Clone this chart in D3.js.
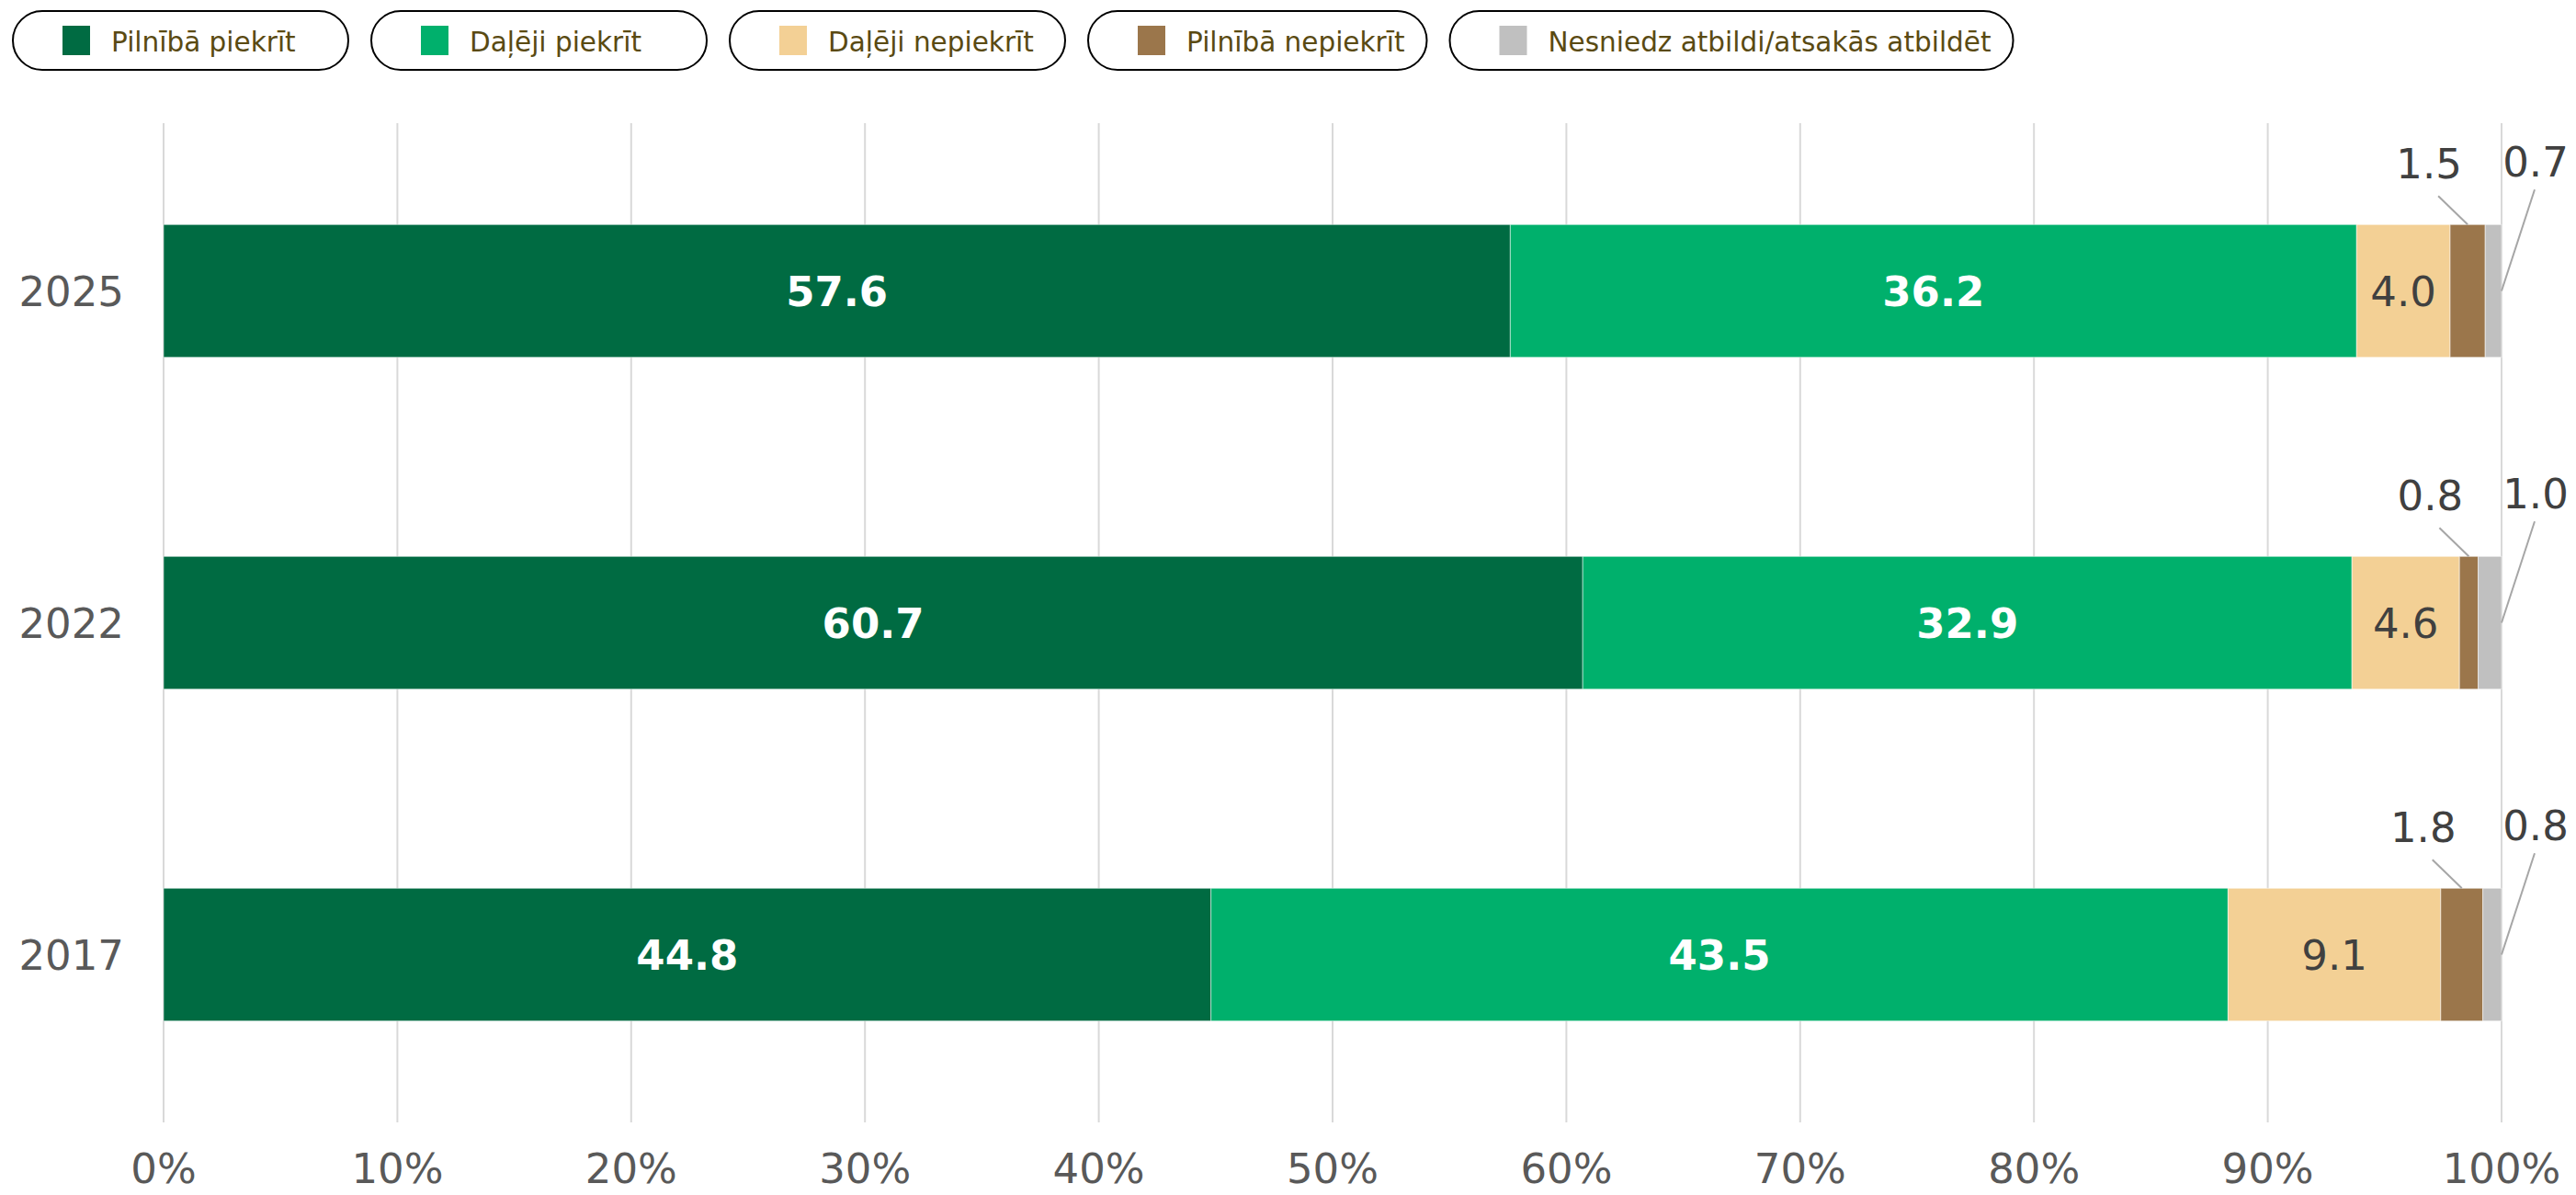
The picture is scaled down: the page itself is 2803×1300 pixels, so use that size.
<html>
<head>
<meta charset="utf-8">
<script src="https://d3js.org/d3.v7.min.js"></script>
<style>
body { margin: 0; background: #fff; }
svg { font-family: "DejaVu Sans", Verdana, sans-serif; }
</style>
</head>
<body>
<script>

// data
var years = ["2025", "2022", "2017"];
var seriesNames = ["Pilnībā piekrīt", "Daļēji piekrīt", "Daļēji nepiekrīt", "Pilnībā nepiekrīt", "Nesniedz atbildi/atsakās atbildēt"];
var pilnibaPiekrit   = [57.6, 60.7, 44.8];
var dalejiPiekrit    = [36.2, 32.9, 43.5];
var dalejiNepiekrit  = [4.0, 4.6, 9.1];
var pilnibaNepiekrit = [1.5, 0.8, 1.8];
var nesniedz         = [0.7, 1.0, 0.8];
var xTicks = [0, 10, 20, 30, 40, 50, 60, 70, 80, 90, 100];

var colors = ["#006b42", "#00b06c", "#f3d095", "#9b764b", "#c0c0c0"];
var values = [pilnibaPiekrit, dalejiPiekrit, dalejiNepiekrit, pilnibaNepiekrit, nesniedz];

var W = 2803, H = 1300;
var margin = {top: 136, right: 81, bottom: 81, left: 178};

var svg = d3.select("body").append("svg")
    .attr("width", W)
    .attr("height", H);

var x = d3.scaleLinear()
    .domain([0, 100])
    .range([margin.left, W - margin.right]);

var y = d3.scaleBand()
    .domain(years)
    .range([margin.top, H - margin.bottom])
    .paddingInner(0.6)
    .paddingOuter(0.3);

// gridlines
svg.append("g").selectAll("line")
    .data(xTicks)
  .enter().append("line")
    .attr("x1", function(d) { return x(d); })
    .attr("x2", function(d) { return x(d); })
    .attr("y1", margin.top - 2)
    .attr("y2", H - margin.bottom + 2)
    .attr("stroke", "#d9d9d9")
    .attr("stroke-width", 2);

// x axis labels
svg.append("g").selectAll("text")
    .data(xTicks)
  .enter().append("text")
    .attr("x", function(d) { return x(d); })
    .attr("y", 1287)
    .attr("text-anchor", "middle")
    .attr("fill", "#595959")
    .attr("font-size", 45)
    .text(function(d) { return d + "%"; });

// y axis labels
svg.append("g").selectAll("text")
    .data(years)
  .enter().append("text")
    .attr("x", 135)
    .attr("y", function(d) { return y(d) + y.bandwidth() / 2; })
    .attr("dy", "0.36em")
    .attr("text-anchor", "end")
    .attr("fill", "#595959")
    .attr("font-size", 45)
    .text(function(d) { return d; });

// stack the series
var rows = years.map(function(yr, i) {
  var r = {year: yr};
  seriesNames.forEach(function(s, k) { r[s] = values[k][i]; });
  return r;
});
var stack = d3.stack().keys(seriesNames)(rows);

var layers = svg.append("g").selectAll("g")
    .data(stack)
  .enter().append("g")
    .attr("fill", function(d, k) { return colors[k]; });

layers.selectAll("rect")
    .data(function(d) { return d; })
  .enter().append("rect")
    .attr("x", function(d) { return x(d[0]); })
    .attr("y", function(d) { return y(d.data.year); })
    .attr("width", function(d) { return x(d[1]) - x(d[0]); })
    .attr("height", y.bandwidth())
    .attr("stroke", "#fff")
    .attr("stroke-opacity", 0.5)
    .attr("stroke-width", 1);

// labels inside bars
stack.forEach(function(layer, k) {
  if (k > 2) return;
  svg.append("g").selectAll("text")
      .data(layer)
    .enter().append("text")
      .attr("x", function(d) { return (x(d[0]) + x(d[1])) / 2; })
      .attr("y", function(d) { return y(d.data.year) + y.bandwidth() / 2; })
      .attr("dy", "0.36em")
      .attr("text-anchor", "middle")
      .attr("font-size", 45)
      .attr("font-weight", k < 2 ? "bold" : "normal")
      .attr("fill", k < 2 ? "#fff" : "#404040")
      .text(function(d) { return (d[1] - d[0]).toFixed(1); });
});

// small segments: labels above with leader lines
var brown = stack[3], grey = stack[4];
var callouts = svg.append("g");

brown.forEach(function(d) {
  var cx = (x(d[0]) + x(d[1])) / 2;
  var top = y(d.data.year);
  callouts.append("line")
      .attr("x1", cx - 32).attr("y1", top - 31)
      .attr("x2", cx).attr("y2", top)
      .attr("stroke", "#a6a6a6").attr("stroke-width", 2);
  callouts.append("text")
      .attr("x", cx - 42)
      .attr("y", top - 50)
      .attr("text-anchor", "middle")
      .attr("font-size", 45)
      .attr("fill", "#404040")
      .text((d[1] - d[0]).toFixed(1));
});

grey.forEach(function(d) {
  var right = x(d[1]);
  var top = y(d.data.year);
  callouts.append("line")
      .attr("x1", right + 36).attr("y1", top - 38)
      .attr("x2", right).attr("y2", top + y.bandwidth() / 2)
      .attr("stroke", "#a6a6a6").attr("stroke-width", 2);
  callouts.append("text")
      .attr("x", right + 37)
      .attr("y", top - 52)
      .attr("text-anchor", "middle")
      .attr("font-size", 45)
      .attr("fill", "#404040")
      .text((d[1] - d[0]).toFixed(1));
});

// legend pills
var legend = svg.append("g");
var lx = 14;
seriesNames.forEach(function(name, k) {
  var g = legend.append("g");
  var pill = g.append("rect")
      .attr("y", 12)
      .attr("height", 64)
      .attr("rx", 32)
      .attr("fill", "#fff")
      .attr("stroke", "#000")
      .attr("stroke-width", 2);
  g.append("rect")
      .attr("x", lx + 54)
      .attr("y", 28)
      .attr("width", 30)
      .attr("height", 32)
      .attr("fill", colors[k]);
  var t = g.append("text")
      .attr("x", lx + 107)
      .attr("y", 45)
      .attr("dy", "0.36em")
      .attr("font-size", 29.5)
      .attr("fill", "#5a4a12")
      .text(name);
  var tw = t.node().getComputedTextLength();
  var w = Math.max(365, 107 + tw + 24);
  pill.attr("x", lx).attr("width", w);
  lx += w + 25;
});

</script>
</body>
</html>
